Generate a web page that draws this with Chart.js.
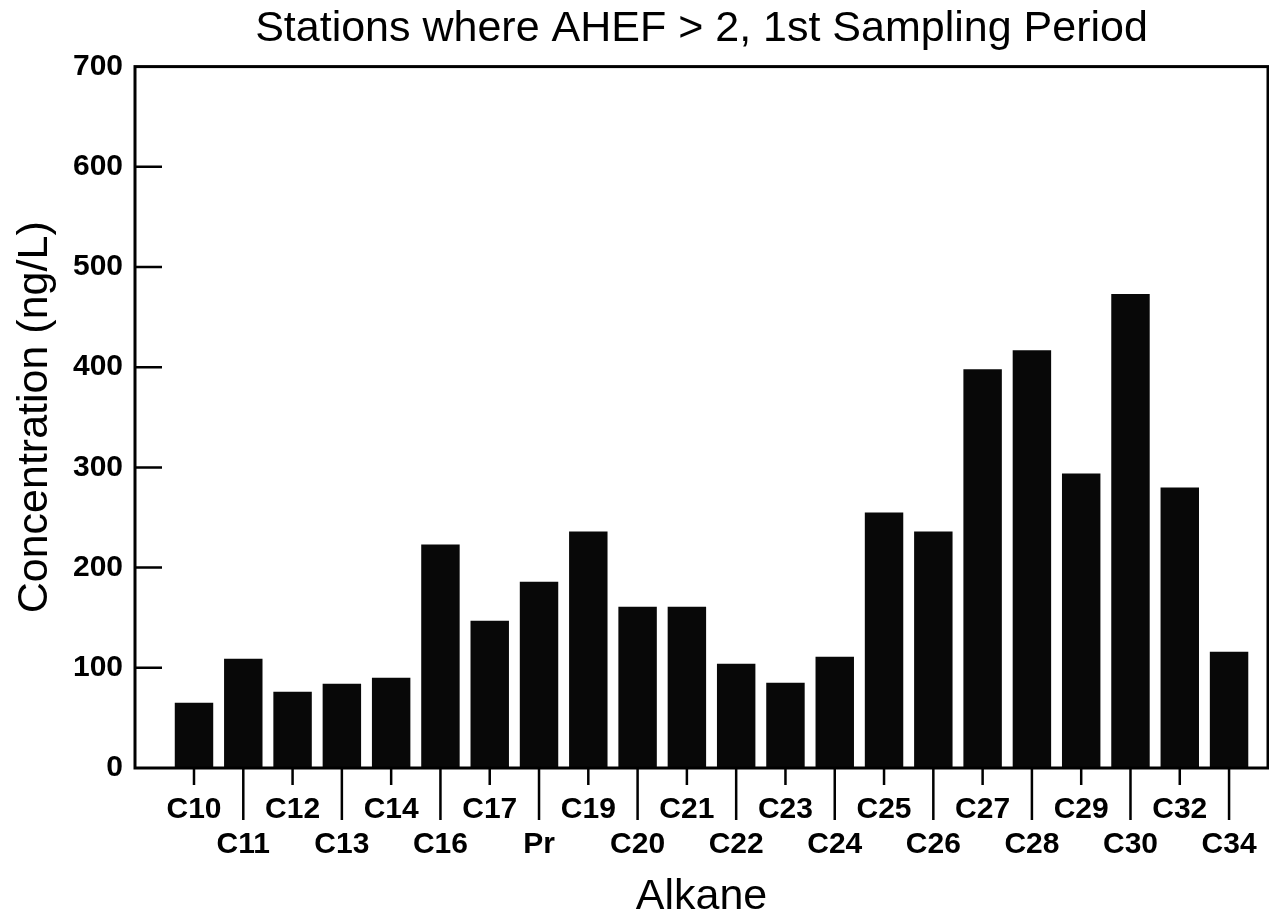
<!DOCTYPE html>
<html>
<head>
<meta charset="utf-8">
<script src="https://cdn.jsdelivr.net/npm/chart.js@4"></script>
<style>
  html, body { margin: 0; padding: 0; background: #fff; }
  #wrap { width: 1269px; height: 919px; }
</style>
</head>
<body>
<div id="wrap"><canvas id="alkaneChart"></canvas></div>
<script>
// Data
const categories = ["C10", "C11", "C12", "C13", "C14", "C16", "C17", "Pr", "C19", "C20", "C21",
  "C22", "C23", "C24", "C25", "C26", "C27", "C28", "C29", "C30", "C32", "C34"];
const concentrations = [65, 109, 76, 84, 90, 223, 147, 186, 236, 161, 161,
  104, 85, 111, 255, 236, 398, 417, 294, 473, 280, 116];
const yTickValues = [0, 100, 200, 300, 400, 500, 600, 700];

const FONT = "'Liberation Sans', Arial, Helvetica, sans-serif";

// frame + tick marks (inside ticks on y, short/long alternating ticks on x)
const framePlugin = {
  id: "frame",
  afterDatasetsDraw(chart) {
    const { ctx, chartArea: a, scales } = chart;
    ctx.save();
    ctx.strokeStyle = "#000";
    ctx.lineWidth = 3;
    ctx.strokeRect(a.left, a.top, a.right - a.left, a.bottom - a.top);
    ctx.lineWidth = 2.5;
    ctx.beginPath();
    categories.forEach((c, i) => {
      const x = scales.x.getPixelForValue(i);
      ctx.moveTo(x, a.bottom);
      ctx.lineTo(x, a.bottom + (i % 2 ? 52 : 17));
    });
    yTickValues.slice(1, -1).forEach((v) => {
      const y = scales.y.getPixelForValue(v);
      ctx.moveTo(a.left, y);
      ctx.lineTo(a.left + 27, y);
    });
    ctx.stroke();
    ctx.restore();
  },
};

const ctx = document.getElementById("alkaneChart").getContext("2d");
const chart = new Chart(ctx, {
  type: "bar",
  data: {
    datasets: [
      {
        data: categories.map((c, i) => ({ x: i, y: concentrations[i] })),
        backgroundColor: "#080808",
        borderWidth: 0,
        barPercentage: 0.78,
        categoryPercentage: 1,
      },
    ],
  },
  options: {
    responsive: true,
    maintainAspectRatio: false,
    animation: false,
    layout: { padding: { left: 0, right: 1, top: 0, bottom: 0 } },
    plugins: {
      legend: { display: false },
      tooltip: { enabled: false },
      title: {
        display: true,
        fullSize: false,
        text: "Stations where AHEF > 2, 1st Sampling Period",
        color: "#000",
        font: { family: FONT, size: 43, weight: "normal", lineHeight: 1.2 },
        padding: { top: 3, bottom: 12 },
      },
    },
    scales: {
      x: {
        type: "linear",
        offset: false,
        min: -1.197,
        max: 21.79,
        grid: { display: false, drawTicks: false },
        border: { display: false },
        afterBuildTicks: (scale) => {
          scale.ticks = categories.map((c, i) => ({ value: i }));
        },
        afterFit: (scale) => {
          scale.height = 151;
          scale.paddingLeft = 0;
          scale.paddingRight = 0;
        },
        ticks: {
          autoSkip: false,
          maxRotation: 0,
          minRotation: 0,
          padding: 24,
          color: "#000",
          font: { family: FONT, size: 30, weight: "bold", lineHeight: 1.17 },
          callback: (value) => (value % 2 ? ["", categories[value]] : categories[value]),
        },
        title: {
          display: true,
          text: "Alkane",
          color: "#000",
          font: { family: FONT, size: 43, lineHeight: 1 },
          padding: { top: 0, bottom: 0 },
        },
      },
      y: {
        min: 0,
        max: 700,
        grid: { display: false, drawTicks: false },
        border: { display: false },
        afterFit: (scale) => {
          scale.width = 135;
        },
        ticks: {
          stepSize: 100,
          padding: 12,
          color: "#000",
          font: { family: FONT, size: 30, weight: "bold" },
        },
        title: {
          display: true,
          text: "Concentration (ng/L)",
          color: "#000",
          font: { family: FONT, size: 43, lineHeight: 1.2 },
          padding: { top: 9, bottom: 0 },
        },
      },
    },
  },
  plugins: [framePlugin],
});
</script>
</body>
</html>
